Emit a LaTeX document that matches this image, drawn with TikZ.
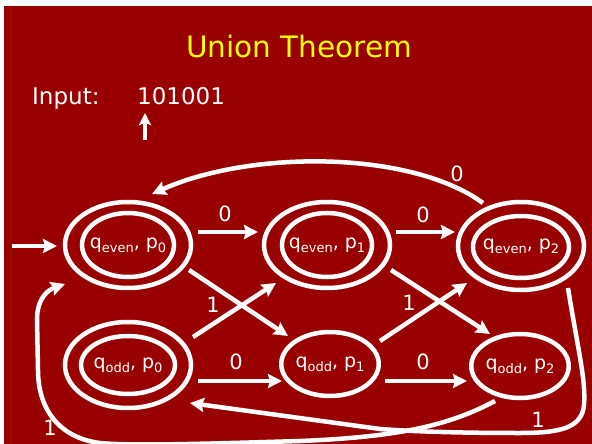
\documentclass[tikz,border=0pt]{standalone}
\usepackage{fontspec}
\setmainfont{DejaVu Sans}
\usetikzlibrary{shapes.geometric,arrows.meta}
\definecolor{slidered}{RGB}{153,0,0}
\definecolor{titleyellow}{RGB}{255,255,0}
\newcommand\sbx[1]{\raisebox{-4pt}{\fontsize{13}{13}\selectfont #1}}
\begin{document}
\begin{tikzpicture}[x=1pt,y=-1pt,
  stateouter/.style={ellipse, draw=white, line width=4.5pt, inner sep=0pt, text=white, font=\fontsize{19}{19}\selectfont},
  ring/.style={draw=white, line width=4.5pt},
  arr/.style={draw=white, line width=4.5pt, -{Stealth[length=14pt,width=14pt,inset=2pt]}},
  elabel/.style={text=white, font=\fontsize{21}{21}\selectfont, inner sep=0pt},
  plaintext/.style={text=white, font=\fontsize{23}{23}\selectfont, inner sep=0pt, anchor=base west},
]
\useasboundingbox (0,0) rectangle (592,444);
\fill[white] (0,0) rectangle (592,444);
\fill[slidered] (4,6) rectangle (592,444);

% title and input
\node[text=titleyellow, font=\fontsize{29.5}{29.5}\selectfont, inner sep=0pt, anchor=base] (title) at (299,58) {Union Theorem};
\node[plaintext] (inp) at (32,104) {Input:};
\node[plaintext] (bits) at (137,104) {101001};
\coordinate (arrbot) at (145,140);
\coordinate (arrtop) at (145,113);
\draw[draw=white, line width=4.5pt, -{Stealth[length=12pt,width=12pt,inset=2pt]}] (arrbot) -- (arrtop);

% states
\node[stateouter, minimum width=126pt, minimum height=86pt] (qe0) at (128,245) {q\sbx{even}, p\sbx{0}};
\node[stateouter, minimum width=126pt, minimum height=86pt] (qe1) at (327,245) {q\sbx{even}, p\sbx{1}};
\node[stateouter, minimum width=126pt, minimum height=88pt] (qe2) at (521,246) {q\sbx{even}, p\sbx{2}};
\node[stateouter, minimum width=126pt, minimum height=86pt] (qo0) at (128,365) {q\sbx{odd}, p\sbx{0}};
\node[stateouter, minimum width=88pt, minimum height=64pt] (qo1) at (330,364) {q\sbx{odd}, p\sbx{1}};
\node[stateouter, minimum width=90pt, minimum height=64pt] (qo2) at (520,366) {q\sbx{odd}, p\sbx{2}};
\draw[ring] (qe0.center) ellipse [x radius=46pt, y radius=32pt];
\draw[ring] (qe1.center) ellipse [x radius=45pt, y radius=32pt];
\draw[ring] ([yshift=-1pt]qe2.center) ellipse [x radius=48pt, y radius=31pt];
\draw[ring] (qo0.center) ellipse [x radius=47pt, y radius=29pt];

% start arrow
\coordinate (start) at (12,246);
\draw[arr] (start) -- ([shift={(-71,1)}]qe0.center);

% 0-transitions
\draw[arr] ([shift={(70,-13)}]qe0.center) -- ([shift={(-69,-13)}]qe1.center);
\draw[arr] ([shift={(69,-13)}]qe1.center) -- ([shift={(-66,-14)}]qe2.center);
\draw[arr] ([shift={(70,16)}]qo0.center) -- ([shift={(-48,17)}]qo1.center);
\draw[arr] ([shift={(55,17)}]qo1.center) -- ([shift={(-53,15)}]qo2.center);
\draw[arr] ([shift={(-38,-43)}]qe2.center) .. controls (410,150) and (250,150) .. ([shift={(24,-51)}]qe0.center);

% 1-transitions
\draw[arr] ([shift={(61,25)}]qe0.center) -- ([shift={(-42,-28)}]qo1.center);
\draw[arr] ([shift={(65,-28)}]qo0.center) -- ([shift={(-51,38)}]qe1.center);
\draw[arr] ([shift={(64,25)}]qe1.center) -- ([shift={(-30,-32)}]qo2.center);
\draw[arr] ([shift={(50,-23)}]qo1.center) -- ([shift={(-54,37)}]qe2.center);
\draw[arr] ([shift={(47,42)}]qe2.center) .. controls (578,350) and (586,380) .. (584,405)
  .. controls (582,428) and (560,433) .. (520,433)
  .. controls (470,433) and (420,432) .. (380,429)
  -- ([shift={(62,38)}]qo0.center);
\draw[arr] ([shift={(-25,35)}]qo2.center) .. controls (450,425) and (400,437) .. (300,441)
  .. controls (200,444) and (130,446) .. (100,443)
  .. controls (60,438) and (38,410) .. (38,370)
  -- (37,320) .. controls (37,298) and (48,290) .. ([shift={(-63,39)}]qe0.center);

% edge labels
\node[elabel] (l0a) at (225,214) {0};
\node[elabel] (l0b) at (423,215) {0};
\node[elabel] (l0c) at (236,362) {0};
\node[elabel] (l0d) at (423,362) {0};
\node[elabel] (l0e) at (457,174) {0};
\node[elabel] (l1a) at (213,305) {1};
\node[elabel] (l1b) at (409,303) {1};
\node[elabel] (l1c) at (538,420) {1};
\node[elabel] (l1d) at (50,428) {1};
\end{tikzpicture}
\end{document}
